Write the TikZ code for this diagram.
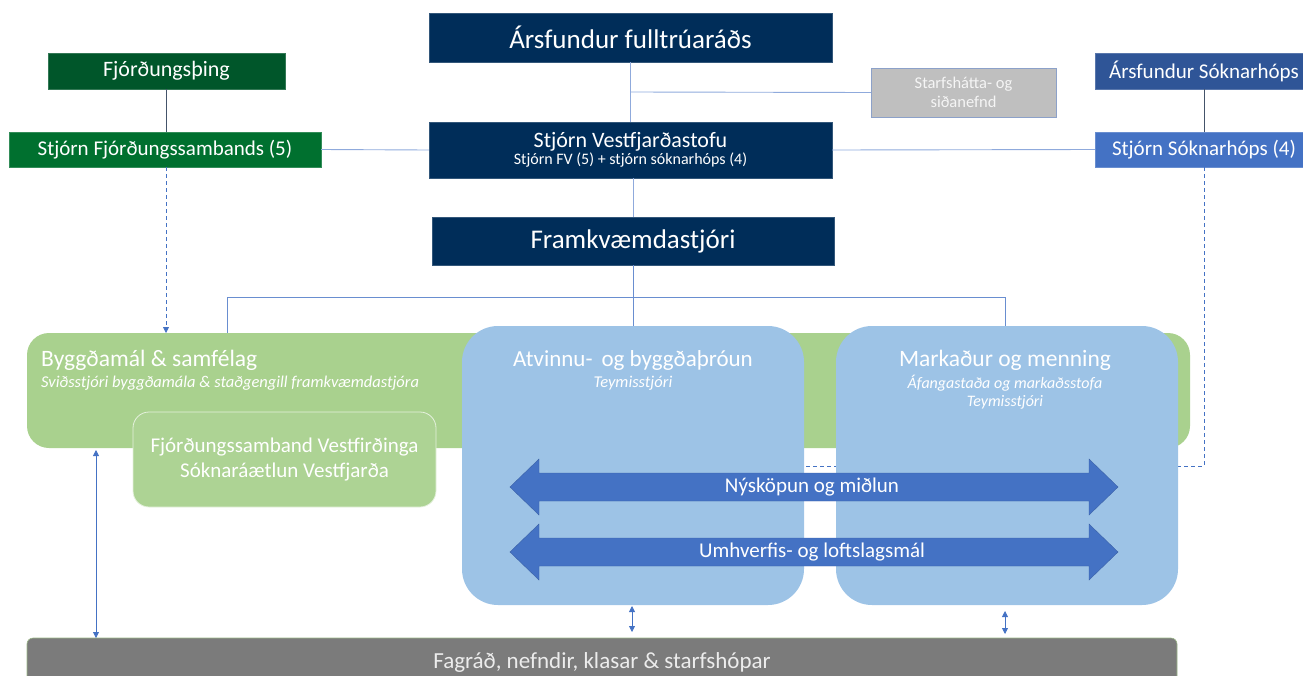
\documentclass[tikz,border=0pt]{standalone}
\usepackage{fontspec}
\setmainfont{Carlito}
\usetikzlibrary{arrows.meta}
\definecolor{navy}{HTML}{002D59}
\definecolor{dgreen}{HTML}{00562A}
\definecolor{mgreen}{HTML}{00702F}
\definecolor{lgreen}{HTML}{A9D18E}
\definecolor{lblue}{HTML}{9DC3E6}
\definecolor{mblue}{HTML}{4472C4}
\definecolor{sblue}{HTML}{2F5597}
\definecolor{lgray}{HTML}{BFBFBF}
\definecolor{dgray}{HTML}{7B7B7B}
\definecolor{conn}{HTML}{8FAADC}
\definecolor{slate}{HTML}{44546A}
\begin{document}
\begin{tikzpicture}[x=1pt,y=-1pt,
  hbox/.style={rectangle, inner sep=0pt, text=white, align=center, draw=#1!80!white, fill=#1},
  fs/.style={font=\fontsize{#1}{#1}\selectfont},
  cline/.style={draw=conn, line width=0.9pt},
  sline/.style={draw=slate, line width=0.9pt},
  tip/.style={-{Triangle[width=6pt,length=6pt]}},
  dtip/.style={{Triangle[width=6pt,length=6pt]}-{Triangle[width=6pt,length=6pt]}},
  bigarrow/.style={fill=mblue, draw=mblue!85!black, line width=0.4pt},
  wtext/.style={text=white, inner sep=0pt}
]
\useasboundingbox (0,0) rectangle (1303,675);
\clip (0,0) rectangle (1303,675);

% top boxes
\node[hbox=navy, minimum width=403pt, minimum height=49pt, fs=27] (ars) at (630.5,37.5) {Ársfundur fulltrúaráðs};
\node[hbox=dgreen, minimum width=237pt, minimum height=36pt, fs=22] (fthing) at (166.5,71) {Fjórðungsþing};
\node[hbox=mgreen, minimum width=312pt, minimum height=35pt, fs=21] (sfs) at (165,149.5) {Stjórn Fjórðungssambands (5)};
\node[hbox=navy, minimum width=403pt, minimum height=56pt] (sv) at (630.5,150)
  {{\fontsize{22}{24}\selectfont Stjórn Vestfjarðastofu}\\[1pt]{\fontsize{16}{18}\selectfont Stjórn FV (5) + stjórn sóknarhóps (4)}};
\node[hbox=lgray, draw=conn!80!gray, minimum width=185pt, minimum height=49pt, text=white!92!gray, font=\fontsize{16.5}{19}\selectfont] (starf) at (963.5,92.5) {Starfshátta- og\\siðanefnd};
\node[hbox=navy, minimum width=402pt, minimum height=48pt, fs=27] (fk) at (633,241) {Framkvæmdastjóri};
\node[hbox=sblue, minimum width=218pt, minimum height=36pt, fs=21] (arsS) at (1204,71) {Ársfundur Sóknarhóps};
\node[hbox=mblue, minimum width=218pt, minimum height=35pt, fs=21] (ss) at (1204,149.5) {Stjórn Sóknarhóps (4)};

% connectors (top)
\draw[cline] (ars.south) -- (ars.south |- sv.north);
\coordinate (br) at (631,92);
\draw[cline] (br) -- (starf.west);
\draw[cline] (sv.south -| fk.north) -- (fk.north);
\draw[sline] (fthing.south) -- (sfs.north -| fthing.south);
\draw[cline] (sfs.east) -- (sv.west);
\draw[cline] (sv.east) -- (ss.west);
\draw[sline] (arsS.south) -- (ss.north);

% hub lines
\coordinate (hub) at (633,297);
\coordinate (h1) at (227,297);
\coordinate (h3) at (1005,297);
\coordinate (b1) at (227,333);
\coordinate (b3) at (1005,330);
\coordinate (a2) at (633,326);
\draw[draw=mblue!80!white, line width=0.8pt] (fk.south) -- (a2);
\draw[draw=mblue!80!white, line width=0.8pt] (b1) -- (h1) -- (h3) -- (b3);

% dashed from Stjorn Soknarhops
\coordinate (dd) at (1204,466);
\coordinate (de) at (520,466);
\draw[draw=mblue, line width=0.8pt, dash pattern=on 4pt off 3pt] (ss.south) -- (dd) -- (de);

% green region
\node[rectangle, rounded corners=22pt, fill=lgreen, minimum width=1163pt, minimum height=115pt, inner sep=0pt] (bygg) at (608.5,390.5) {};
\node[wtext, anchor=west, fs=23.5] (byggT) at (41,360) {Byggðamál \& samfélag};
\node[wtext, anchor=west, font=\itshape\fontsize{16.5}{18}\selectfont] (byggS) at (41,383) {Sviðsstjóri byggðamála \& staðgengill framkvæmdastjóra};

% dashed arrow into green
\coordinate (gtop) at (166,333);
\draw[draw=mblue, line width=0.8pt, dash pattern=on 4pt off 3pt, tip] (sfs.south -| gtop) -- (gtop);

\node[rectangle, rounded corners=16pt, fill=lgreen!95!white, draw=white!70!lgreen, line width=0.8pt, minimum width=303pt, minimum height=95pt, inner sep=0pt, text=white, align=center, font=\fontsize{21}{25}\selectfont] (fjs) at (284.5,459.5)
  {Fjórðungssamband Vestfirðinga\\Sóknaráætlun Vestfjarða};

% blue columns
\node[rectangle, rounded corners=36pt, fill=lblue, minimum width=342pt, minimum height=279pt, inner sep=0pt] (atv) at (633,465.5) {};
\node[rectangle, rounded corners=36pt, fill=lblue, minimum width=342pt, minimum height=279pt, inner sep=0pt] (mark) at (1007,465.5) {};
\node[wtext, fs=23] (atvT) at (633,360) {Atvinnu-\, og byggðaþróun};
\node[wtext, font=\itshape\fontsize{16.5}{18}\selectfont] (atvS) at (633,383) {Teymisstjóri};
\node[wtext, fs=23.5] (markT) at (1005,360) {Markaður og menning};
\node[wtext, font=\itshape\fontsize{16}{18}\selectfont] (markS) at (1005,383) {Áfangastaða og markaðsstofa};
\node[wtext, font=\itshape\fontsize{16}{18}\selectfont] (markS2) at (1005,402) {Teymisstjóri};

% big double arrows
\path[bigarrow] (510,487) -- (539,459) -- (539,473) -- (1089,473) -- (1089,459) -- (1118,487) -- (1089,515) -- (1089,501) -- (539,501) -- (539,515) -- cycle;
\node[wtext, fs=21] (nys) at (812,487) {Nýsköpun og miðlun};
\path[bigarrow] (510,552) -- (539,524) -- (539,538) -- (1089,538) -- (1089,524) -- (1118,552) -- (1089,580) -- (1089,566) -- (539,566) -- (539,580) -- cycle;
\node[wtext, fs=21] (umh) at (812,552) {Umhverfis- og loftslagsmál};

% bottom bar
\node[rectangle, rounded corners=6pt, fill=dgray, draw=lgreen!70!dgray, line width=0.6pt, minimum width=1150pt, minimum height=60pt, inner sep=0pt] (fag) at (602,668) {};
\node[wtext, text=white!85!gray, fs=23] (fagT) at (602,662) {Fagráð, nefndir, klasar \& starfshópar};

% vertical double arrows
\coordinate (v1a) at (96,450);
\coordinate (v1b) at (96,638);
\draw[draw=mblue, line width=0.8pt, dtip] (v1a) -- (v1b);
\coordinate (v2a) at (632,606);
\coordinate (v2b) at (632,632);
\draw[draw=mblue, line width=0.8pt, dtip] (v2a) -- (v2b);
\coordinate (v3a) at (1005,611);
\coordinate (v3b) at (1005,634);
\draw[draw=mblue, line width=0.8pt, dtip] (v3a) -- (v3b);
\end{tikzpicture}
\end{document}
